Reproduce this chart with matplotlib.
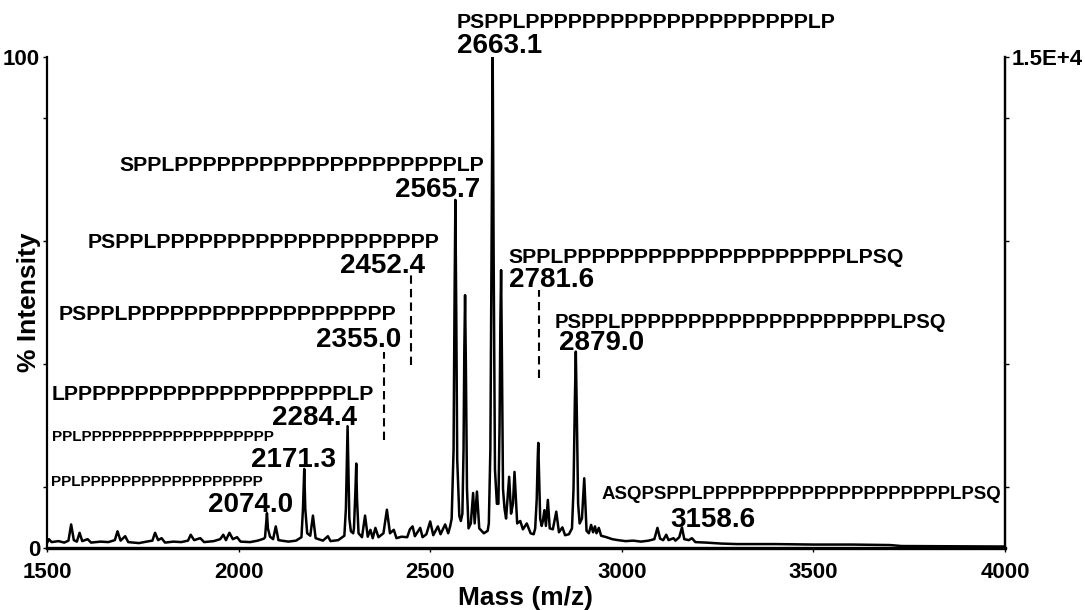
import matplotlib
matplotlib.use("Agg")
import matplotlib.pyplot as plt
from matplotlib import font_manager

# spectrum: mass (m/z) and % intensity
mass = [1500, 1505, 1512, 1530, 1545, 1556, 1563, 1570, 1578, 1585, 1592, 1606, 1615,
        1640, 1660, 1677, 1684, 1692, 1704, 1712, 1740, 1760, 1775, 1782, 1790, 1799,
        1808, 1830, 1850, 1868, 1875, 1884, 1900, 1910, 1935, 1952, 1960, 1967, 1976,
        1985, 1996, 2005, 2030, 2050, 2066, 2069, 2072, 2074, 2076.5, 2082, 2090, 2097,
        2104, 2130, 2150, 2164, 2168, 2171.3, 2174, 2179, 2187, 2194, 2201, 2220, 2233,
        2240, 2260, 2276, 2280, 2282.5, 2284.4, 2286.5, 2289, 2293, 2299, 2301, 2305,
        2307, 2309, 2313, 2322, 2330, 2337, 2344, 2350, 2357, 2365, 2378, 2387, 2395,
        2405, 2412, 2425, 2440, 2447, 2454, 2460, 2474, 2480, 2490, 2500, 2508, 2520,
        2527, 2539, 2547, 2552, 2556, 2561, 2563.5, 2565.7, 2568, 2570.5, 2576, 2580,
        2584, 2587, 2589, 2591, 2593, 2596, 2600, 2606, 2612, 2616, 2622, 2628, 2640,
        2650, 2653, 2657, 2660.5, 2663.1, 2665.5, 2669, 2674, 2678, 2681, 2683, 2685,
        2687, 2690, 2694, 2698, 2706, 2711, 2716, 2720, 2727, 2735, 2742, 2752, 2762,
        2770, 2774, 2778, 2780.5, 2782, 2784, 2787, 2791, 2794, 2798, 2802, 2807, 2812,
        2820, 2829, 2836, 2845, 2852, 2862, 2870, 2874, 2877.5, 2880, 2882.5, 2886,
        2890, 2896, 2902, 2908, 2914, 2920, 2925, 2930, 2934, 2940, 2946, 2960, 2975,
        2990, 3010, 3030, 3050, 3070, 3085, 3093, 3100, 3108, 3116, 3122, 3135, 3140,
        3150, 3157, 3163, 3175, 3183, 3192, 3220, 3260, 3300, 3400, 3500, 3600, 3700,
        3730, 3850, 4000]
intensity = [1.0, 1.8, 1.2, 1.4, 1.1, 1.5, 4.8, 1.6, 1.3, 3.1, 1.4, 1.8, 1.1,
             1.3, 1.2, 1.6, 3.4, 1.5, 2.4, 1.2, 1.0, 1.3, 1.5, 3.1, 1.6, 2.0,
             1.1, 1.3, 1.2, 1.5, 2.7, 1.6, 2.0, 1.2, 1.4, 1.8, 2.7, 1.6, 3.1,
             1.8, 2.2, 1.3, 1.2, 1.5, 1.9, 2.2, 5.0, 7.1, 4.0, 2.3, 1.8, 4.4,
             1.6, 1.3, 1.5, 2.2, 8.0, 16.1, 8.0, 3.0, 2.5, 6.6, 2.0, 1.5, 2.4,
             1.4, 1.6, 2.5, 8.0, 18.0, 24.8, 16.0, 6.0, 3.4, 3.0, 4.0, 12.0,
             17.2, 10.0, 3.0, 2.2, 6.6, 2.3, 3.7, 2.0, 4.1, 2.2, 3.0, 7.8, 3.0,
             3.7, 2.0, 2.3, 2.2, 3.8, 4.4, 2.4, 4.1, 2.2, 2.8, 5.4, 2.6, 4.4,
             2.8, 4.8, 3.0, 4.4, 6.0, 20.0, 50.0, 70.9, 48.0, 18.0, 6.5, 5.5,
             7.0, 20.0, 40.0, 51.5, 38.0, 12.0, 4.0, 5.0, 11.2, 5.0, 11.5, 4.0, 3.0,
             3.5, 5.0, 20.0, 65.0, 100.0, 60.0, 16.0, 9.0, 9.0, 25.0, 45.0, 56.6,
             40.0, 12.0, 8.0, 6.0, 14.5, 7.0, 9.0, 15.5, 5.0, 5.5, 3.8, 5.0, 3.0,
             2.8, 4.0, 10.0, 18.0, 21.4, 15.0, 6.0, 4.5, 5.5, 7.7, 4.5, 9.8, 4.0,
             3.8, 7.4, 3.2, 4.2, 2.6, 2.8, 4.0, 12.0, 30.0, 40.0, 28.0, 9.0,
             5.0, 6.0, 14.2, 3.5, 3.0, 4.7, 3.2, 4.4, 3.0, 4.1, 2.5, 2.2, 1.8,
             1.6, 1.4, 1.5, 1.3, 1.5, 1.8, 4.1, 1.9, 1.6, 2.7, 1.6, 2.0, 1.5,
             2.2, 4.2, 1.8, 1.6, 2.0, 1.2, 1.1, 0.9, 0.8, 0.8, 0.7, 0.7, 0.6,
             0.4, 0.35, 0.3]

# labelled species
peak_values = ["2074.0", "2171.3", "2284.4", "2355.0", "2452.4",
               "2565.7", "2663.1", "2781.6", "2879.0", "3158.6"]
peak_seqs = ["PPL" + "P" * 18,
             "PPL" + "P" * 19,
             "L" + "P" * 20 + "LP",
             "PSPPL" + "P" * 19,
             "PSPPL" + "P" * 20,
             "SPPL" + "P" * 20 + "LP",
             "PSPPL" + "P" * 20 + "LP",
             "SPPL" + "P" * 20 + "LPSQ",
             "PSPPL" + "P" * 20 + "LPSQ",
             "ASQPSPPL" + "P" * 20 + "LPSQ"]

# dashed markers for the unresolved species
marker_mass = [2380, 2451, 2783]
marker_low = [22.0, 37.3, 34.6]
marker_high = [40.0, 55.6, 52.5]

# label layout (data coords): sequence x, y, number x, y, sequence size
layout = [(1510, 12.7, 1920, 7.3, 11),
          (1513, 21.7, 2032, 16.5, 11),
          (1513, 30.2, 2087, 25.1, 15.3),
          (1531, 46.5, 2202, 40.9, 15.3),
          (1607, 61.2, 2265, 56.0, 15.3),
          (1690, 76.8, 2408, 71.5, 15.3),
          (2570, 106.0, 2570, 100.8, 15.3),
          (2703, 58.1, 2706, 53.2, 15.3),
          (2826, 44.9, 2836, 40.3, 14.6),
          (2946, 10.0, 3126, 4.3, 13.4)]

names = {f.name for f in font_manager.fontManager.ttflist}
narrow = "Liberation Sans Narrow" in names
tick_family = ["Liberation Sans Narrow", "Liberation Sans"] if narrow else ["Liberation Sans"]
tick_size = 19 if narrow else 16

plt.rcParams["font.family"] = ["Liberation Sans", "DejaVu Sans"]
plt.rcParams["font.weight"] = "bold"

fig = plt.figure(figsize=(10.85, 6.10), dpi=100)
ax = fig.add_axes([47 / 1085, 62 / 610, 958 / 1085, 491 / 610])

ax.plot(mass, intensity, color="black", lw=1.8, solid_joinstyle="round")
for m, lo, hi in zip(marker_mass, marker_low, marker_high):
    ax.plot([m, m], [lo, hi], color="black", lw=1.5, linestyle=(0, (4, 2.5)))

for seq, val, (sx, sy, nx, ny, size) in zip(peak_seqs, peak_values, layout):
    ax.text(sx, sy, seq, fontsize=size, fontweight="bold", ha="left", va="baseline")
    ax.text(nx, ny, val, fontsize=20, fontweight="bold", ha="left", va="baseline")

ax.set_xlim(1500, 4000)
ax.set_ylim(0, 100)
ax.spines["top"].set_visible(False)
ax.spines["bottom"].set_linewidth(2.4)
ax.spines["left"].set_linewidth(1.6)
ax.spines["right"].set_linewidth(1.6)

ax.set_xticks([1500, 2000, 2500, 3000, 3500, 4000])
ax.set_yticks([0, 100])
ax.set_yticks([12.5, 37.5, 62.5, 87.5], minor=True)
ax.tick_params(axis="x", direction="out", length=3, width=1, pad=7)
ax.tick_params(axis="y", which="both", direction="out", length=3, width=1, pad=2)
for lab in ax.get_xticklabels() + ax.get_yticklabels():
    lab.set_fontfamily(tick_family)
    lab.set_fontsize(tick_size)
    lab.set_fontweight("bold")

ax.set_xlabel("Mass (m/z)", fontsize=19, fontweight="bold", labelpad=2)
ax.set_ylabel("% Intensity", fontsize=19, fontweight="bold")
ax.yaxis.set_label_coords(-0.006, 0.5)

twin = ax.twinx()
twin.set_ylim(0, 1.5e4)
twin.set_yticks([1.5e4])
twin.set_yticklabels(["1.5E+4"])
twin.set_yticks([1875, 5625, 9375, 13125], minor=True)
twin.tick_params(axis="y", which="both", direction="out", length=3, width=1, pad=2)
for lab in twin.get_yticklabels():
    lab.set_fontfamily(tick_family)
    lab.set_fontsize(tick_size)
    lab.set_fontweight("bold")
for side in ["top", "left", "bottom"]:
    twin.spines[side].set_visible(False)
twin.spines["right"].set_linewidth(1.6)

fig.savefig("out.png", dpi=100)
